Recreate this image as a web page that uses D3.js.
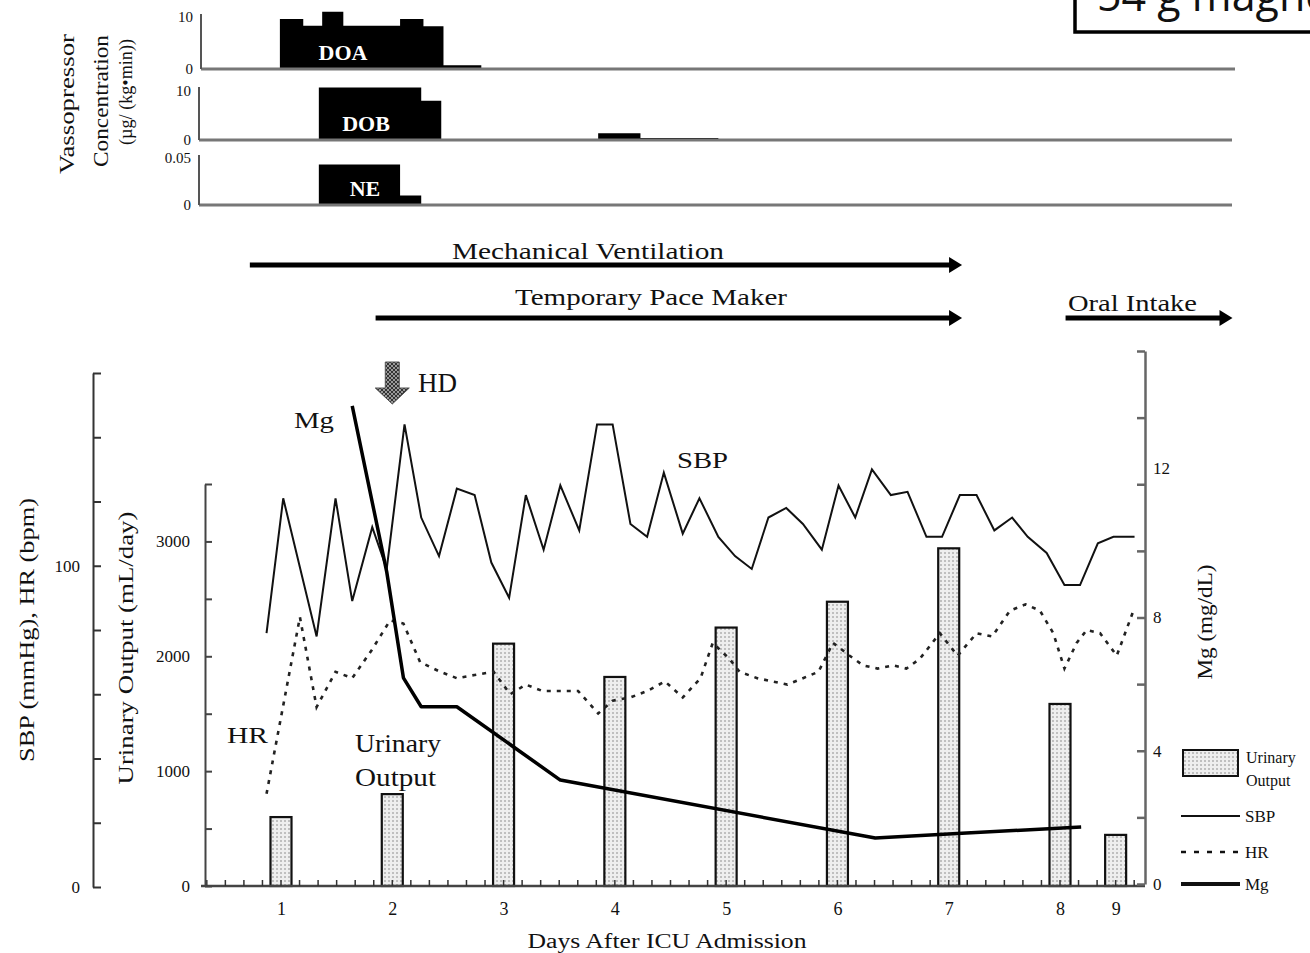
<!DOCTYPE html>
<html><head><meta charset="utf-8">
<script src="https://cdn.jsdelivr.net/npm/d3@7"></script>
<style>
body{margin:0;background:#fff;}
svg{display:block;}
text{font-family:"Liberation Serif","Times New Roman",serif;fill:#111;}
</style></head><body>
<svg id="c" width="1310" height="953"></svg>
<script>
// ---------------- data ----------------
const dayTicks = [1,2,3,4,5,6,7,8,8.5];
const dayLabels = ["1","2","3","4","5","6","7","8","9"];
const urineDays = [1,2,3,4,5,6,7,8,8.5];
const urineValues = [600,800,2110,1820,2250,2475,2940,1585,445];
const sbpDays = [0.87,1.02,1.32,1.49,1.64,1.82,1.95,2.11,2.26,2.42,2.58,2.74,2.89,3.05,3.20,3.36,3.51,3.68,3.84,3.98,4.14,4.29,4.44,4.61,4.76,4.93,5.08,5.23,5.38,5.54,5.69,5.86,6.01,6.16,6.31,6.48,6.63,6.80,6.94,7.10,7.25,7.41,7.57,7.71,7.88,8.04,8.18,8.34,8.48,8.67];
const sbpValues = [79,121,78,121,89,112,99,144,115,103,124,122,101,90,122,105,125,111,144,144,113,109,129,110,121,109,103,99,115,118,113,105,125,115,130,122,123,109,109,122,122,111,115,109,104,94,94,107,109,109];
const hrDays = [0.87,1.17,1.32,1.49,1.64,1.82,1.98,2.10,2.25,2.43,2.58,2.74,2.91,3.06,3.20,3.35,3.51,3.67,3.85,3.98,4.14,4.29,4.45,4.61,4.77,4.88,5.03,5.12,5.28,5.55,5.69,5.83,5.96,6.11,6.23,6.36,6.50,6.62,6.74,6.92,7.08,7.25,7.39,7.55,7.69,7.82,7.94,8.04,8.15,8.24,8.36,8.51,8.66];
const hrValues = [29,84,56,67,65,74,83,82,70,67,65,66,67,60,63,61,61,61,54,58,59,61,64,59,65,76,71,67,65,63,65,67,76,72,69,68,69,68,71,79,72,79,78,86,88,86,79,68,76,80,79,72,86];
const mgDays = [1.64,1.95,2.10,2.26,2.58,3.51,6.34,7.16,8.19];
const mgValues = [14.35,9.37,6.19,5.32,5.32,3.12,1.38,1.53,1.71];
const doaDays = [0.99,1.20,1.37,1.56,2.07,2.28,2.46,2.80];
const doaValues = [9.6,8.3,11.0,8.3,9.6,8.2,0.7,0];
const dobDays = [1.34,2.26,2.44,3.85,4.23,4.93];
const dobValues = [10.7,8.0,0,1.4,0.4,0];
const neDays = [1.34,2.07,2.26];
const neValues = [0.043,0.010,0];
const eventNames = ["Mechanical  Ventilation","Temporary  Pace Maker","Oral Intake"];
const eventStart = [0.72,1.85,8.05];
const eventEnd = [7.12,7.12,9.55];
const hdDay = 2.0;

// ---------------- layout ----------------
const svg = d3.select("#c");
const SERIF = '"Liberation Serif","Times New Roman",serif';
const xS = d3.scaleLinear().domain([1,8]).range([281,1060]);
const yL = d3.scaleLinear().domain([0,160]).range([887,373]);
const yU = d3.scaleLinear().domain([0,3500]).range([886,484]);
const yM = d3.scaleLinear().domain([0,16]).range([884,351]);
const yDOA = d3.scaleLinear().domain([0,10]).range([69,17]);
const yDOB = d3.scaleLinear().domain([0,10]).range([140,91]);
const yNE = d3.scaleLinear().domain([0,0.05]).range([205,158]);

const defs = svg.append("defs");
const pd = defs.append("pattern").attr("id","dots").attr("width",4).attr("height",4).attr("patternUnits","userSpaceOnUse");
pd.append("rect").attr("width",4).attr("height",4).attr("fill","#eeeeee");
pd.append("circle").attr("cx",1).attr("cy",1).attr("r",0.75).attr("fill","#7a7a7a");
const ph = defs.append("pattern").attr("id","hatch").attr("width",4).attr("height",4).attr("patternUnits","userSpaceOnUse");
ph.append("rect").attr("width",4).attr("height",4).attr("fill","#999");
ph.append("path").attr("d","M0,0L4,4M4,0L0,4").attr("stroke","#333").attr("stroke-width",1);

// ---------------- top-right box (cut off at the page edge, as in the source) ----------------
svg.append("rect").attr("x",1075).attr("y",-6).attr("width",260).attr("height",38)
  .attr("fill","#fff").attr("stroke","#000").attr("stroke-width",3.5);
svg.append("text").attr("x",1097).attr("y",11).style("font-family",'"Open Sans","Noto Sans",sans-serif')
  .style("font-size","43px").text("54 g magnesium");

// ---------------- vasopressor panels ----------------
function panel(days, vals, y, top, label, lx, ly, tickVals, tickFmt, axX, baseX1){
  const pts = d3.zip(days, vals);
  const area = d3.area().x(d=>xS(d[0])).y0(y(0)).y1(d=>y(d[1])).curve(d3.curveStepAfter);
  svg.append("path").datum(pts).attr("d",area).attr("fill","#000");
  svg.append("line").attr("x1",axX).attr("x2",baseX1).attr("y1",y(0)).attr("y2",y(0))
    .attr("stroke","#777").attr("stroke-width",3);
  svg.append("line").attr("x1",axX).attr("x2",axX).attr("y1",top).attr("y2",y(0))
    .attr("stroke","#555").attr("stroke-width",2);
  const g = svg.append("g").attr("transform",`translate(${axX},0)`)
    .call(d3.axisLeft(y).tickValues(tickVals).tickSize(0).tickPadding(8).tickFormat(tickFmt));
  g.select(".domain").remove();
  g.selectAll("text").style("font-family",SERIF).style("font-size","15px");
  svg.append("text").attr("x",lx).attr("y",ly).attr("text-anchor","middle")
    .style("font-size","22px").style("font-weight","bold").style("fill","#fff").text(label);
}
panel(doaDays,doaValues,yDOA,14,"DOA",343,60,[0,10],d3.format("d"),201,1235);
panel(dobDays,dobValues,yDOB,87,"DOB",366,131,[0,10],d3.format("d"),199,1232);
panel(neDays,neValues,yNE,155,"NE",365,196,[0,0.05],d=>d===0?"0":"0.05",199,1232);

// vasopressor y title
[["Vassopressor",67,104,140,21],["Concentration",101,101,132,21],["(\u00b5g/ (kg\u2022min))",125,92,106,19]].forEach(t=>{
  svg.append("text").attr("transform",`translate(${t[1]},${t[2]}) rotate(-90)`).attr("dy","0.35em")
    .attr("text-anchor","middle").attr("textLength",t[3]).attr("lengthAdjust","spacingAndGlyphs")
    .style("font-size",t[4]+"px").text(t[0]);
});

// ---------------- event arrows ----------------
const eventY = [265,318,318];
const eventTextX = [588,651,1068];
const eventTextY = [259,305,311];
const eventAnchor = ["middle","middle","start"];
const eventLen = [272,272,129];
eventNames.forEach((n,i)=>{
  const x0 = xS(eventStart[i]), x1 = xS(eventEnd[i]), y = eventY[i];
  svg.append("line").attr("x1",x0).attr("x2",x1-10).attr("y1",y).attr("y2",y)
    .attr("stroke","#000").attr("stroke-width",5);
  svg.append("path").attr("d",`M${x1-13},${y-8}L${x1},${y}L${x1-13},${y+8}Z`).attr("fill","#000");
  svg.append("text").attr("x",eventTextX[i]).attr("y",eventTextY[i]).attr("text-anchor",eventAnchor[i])
    .attr("textLength",eventLen[i]).attr("lengthAdjust","spacingAndGlyphs")
    .style("font-size","24px").text(n.replace(/  /g," "));
});

// ---------------- main chart ----------------
const barW = 21;
svg.append("g").selectAll("rect").data(d3.zip(urineDays,urineValues)).join("rect")
  .attr("x",d=>xS(d[0])-barW/2).attr("width",barW)
  .attr("y",d=>yU(d[1])).attr("height",d=>yU(0)-yU(d[1]))
  .attr("fill","url(#dots)").attr("stroke","#111").attr("stroke-width",2.2);

// x axis
const minorTicks = d3.range(2,53).map(k=>k/6);
const gx = svg.append("g").attr("transform",`translate(0,${yU(0)})`);
gx.append("line").attr("x1",201).attr("x2",1145).attr("stroke","#444").attr("stroke-width",2.5);
gx.selectAll(".mt").data(minorTicks).join("line").attr("class","mt")
  .attr("x1",d=>xS(d)).attr("x2",d=>xS(d)).attr("y1",0).attr("y2",-6).attr("stroke","#333").attr("stroke-width",1.5);
const gxl = svg.append("g").attr("transform",`translate(0,${yU(0)})`)
  .call(d3.axisBottom(xS).tickValues(dayTicks).tickSize(0).tickPadding(16).tickFormat((d,i)=>dayLabels[i]));
gxl.select(".domain").remove();
gxl.selectAll("text").style("font-family",SERIF).style("font-size","18px");
svg.append("text").attr("x",667).attr("y",948).attr("text-anchor","middle")
  .attr("textLength",279).attr("lengthAdjust","spacingAndGlyphs").style("font-size","20px").text("Days After ICU Admission");

// left SBP/HR axis
const gL = svg.append("g").attr("transform","translate(93,0)")
  .call(d3.axisRight(yL).tickValues(d3.range(0,161,20)).tickSize(8).tickSizeOuter(0).tickFormat(d=>(d===0||d===100)?d:""));
gL.selectAll("path,line").attr("stroke","#333").attr("stroke-width",2);
gL.selectAll("text").attr("x",-13).attr("text-anchor","end").style("font-family",SERIF).style("font-size","17px");

// urinary axis
const gU = svg.append("g").attr("transform","translate(205,0)")
  .call(d3.axisRight(yU).tickValues(d3.range(0,3501,500)).tickSize(7).tickSizeOuter(0).tickFormat(d=>d%1000===0?d:""));
gU.selectAll("path,line").attr("stroke","#444").attr("stroke-width",2);
gU.selectAll("text").attr("x",-15).attr("text-anchor","end").style("font-family",SERIF).style("font-size","17px");

// Mg axis
const gM = svg.append("g").attr("transform","translate(1145,0)")
  .call(d3.axisLeft(yM).tickValues(d3.range(0,17,2)).tickSize(8).tickSizeOuter(0).tickFormat(d=>(d%4===0&&d<=12)?d:""));
gM.selectAll("path,line").attr("stroke","#666").attr("stroke-width",2.5);
gM.selectAll("text").attr("x",8).attr("text-anchor","start").style("font-family",SERIF).style("font-size","17px");
gM.selectAll(".tick text").filter(d=>d===12).attr("y",-16);

// axis titles
[["SBP (mmHg),  HR (bpm)",27,630,264,20],["Urinary  Output (mL/day)",126,648,273,21],["Mg (mg/dL)",1205,622,115,20]].forEach(t=>{
  svg.append("text").attr("transform",`translate(${t[1]},${t[2]}) rotate(-90)`).attr("dy","0.35em")
    .attr("text-anchor","middle").attr("textLength",t[3]).attr("lengthAdjust","spacingAndGlyphs")
    .style("font-size",t[4]+"px").text(t[0].replace(/  /g," "));
});

// lines
const lineL = d3.line().x(d=>xS(d[0])).y(d=>yL(d[1]));
const lineM = d3.line().x(d=>xS(d[0])).y(d=>yM(d[1]));
svg.append("path").datum(d3.zip(sbpDays,sbpValues)).attr("d",lineL)
  .attr("fill","none").attr("stroke","#111").attr("stroke-width",2);
svg.append("path").datum(d3.zip(hrDays,hrValues)).attr("d",lineL)
  .attr("fill","none").attr("stroke","#222").attr("stroke-width",2.6).attr("stroke-dasharray","4,6");
svg.append("path").datum(d3.zip(mgDays,mgValues)).attr("d",lineM)
  .attr("fill","none").attr("stroke","#000").attr("stroke-width",3.5).attr("stroke-linejoin","round");

// HD arrow
const hx = xS(hdDay);
svg.append("path").attr("d",`M${hx-7},362L${hx+7},362L${hx+7},388L${hx+17},388L${hx},404L${hx-17},388L${hx-7},388Z`)
  .attr("fill","url(#hatch)").attr("stroke","#555").attr("stroke-width",1);
svg.append("text").attr("x",418).attr("y",392).style("font-size","27px").text("HD");

// annotations
[["Mg",294,428,40,24],["SBP",677,468,51,24],["HR",227,743,41,24],["Urinary",355,752,86,25],["Output",355,786,81,25]].forEach(t=>{
  svg.append("text").attr("x",t[1]).attr("y",t[2]).attr("textLength",t[3]).attr("lengthAdjust","spacingAndGlyphs")
    .style("font-size",t[4]+"px").text(t[0]);
});

// legend
svg.append("rect").attr("x",1183).attr("y",750).attr("width",55).attr("height",26)
  .attr("fill","url(#dots)").attr("stroke","#111").attr("stroke-width",2);
svg.append("text").attr("x",1246).attr("y",763).style("font-size","16px").text("Urinary");
svg.append("text").attr("x",1246).attr("y",786).style("font-size","16px").text("Output");
const legY = [816,852,884];
const legN = ["SBP","HR","Mg"];
const legW = [2,2.6,4];
const legD = [null,"5,8",null];
legN.forEach((n,i)=>{
  svg.append("line").attr("x1",1181).attr("x2",1240).attr("y1",legY[i]).attr("y2",legY[i])
    .attr("stroke","#111").attr("stroke-width",legW[i]).attr("stroke-dasharray",legD[i]);
  svg.append("text").attr("x",1245).attr("y",legY[i]+6).style("font-size","17px").text(n);
});
</script></body></html>
